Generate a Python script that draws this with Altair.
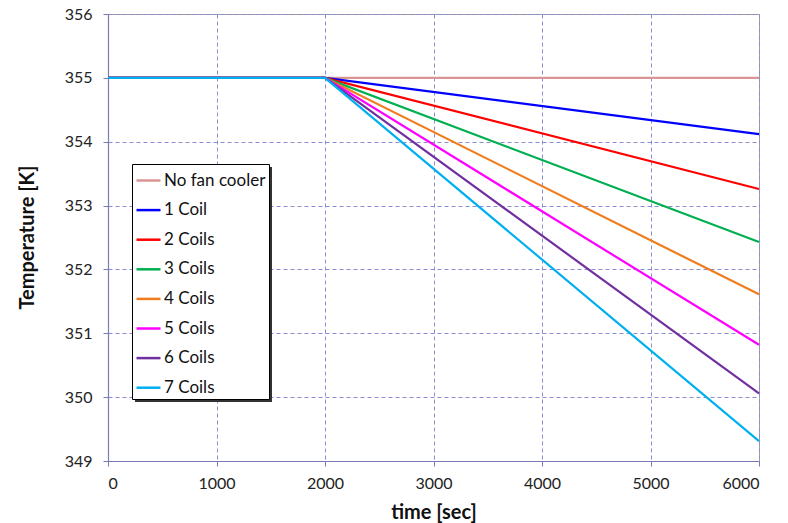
import altair as alt
import pandas as pd

series = ["No fan cooler", "1 Coil", "2 Coils", "3 Coils", "4 Coils", "5 Coils", "6 Coils", "7 Coils"]
colors = ["#d99694", "#0000ff", "#ff0000", "#00b050", "#f07c1e", "#ff00ff", "#7030a0", "#00b0f0"]
times = [0, 2000, 6000]
start_vals = [355, 355, 355, 355, 355, 355, 355, 355]
mid_vals = [355, 355, 355, 355, 355, 355, 355, 355]
end_vals = [355.0, 354.12, 353.26, 352.43, 351.61, 350.82, 350.06, 349.31]

rows = []
for i, s in enumerate(series):
    for t, v in zip(times, [start_vals[i], mid_vals[i], end_vals[i]]):
        rows.append({"series": s, "time": t, "temp": v, "order": i})
df = pd.DataFrame(rows)

FONT = "Lato"
grid_color = "#8c8cd0"

lines = alt.Chart(df).mark_line(strokeWidth=2.2).encode(
    x=alt.X("time:Q", scale=alt.Scale(domain=[0, 6000], nice=False),
            axis=alt.Axis(values=[0, 1000, 2000, 3000, 4000, 5000, 6000], format="d",
                          title="time [sec]", titleY=51, titleBaseline="middle")),
    y=alt.Y("temp:Q", scale=alt.Scale(domain=[349, 356], nice=False, zero=False),
            axis=alt.Axis(values=[349, 350, 351, 352, 353, 354, 355, 356], format="d",
                          title="Temperature [K]",
                          titleX=-81, titleY=223, titleBaseline="middle", titleAngle=-90)),
    color=alt.Color("series:N", sort=series,
                    scale=alt.Scale(domain=series, range=colors),
                    legend=alt.Legend(title=None, orient="none", legendX=24, legendY=150,
                                      symbolType="stroke", symbolSize=576, symbolStrokeWidth=2.5,
                                      labelFontSize=17, labelFont=FONT, labelColor="#111",
                                      labelOffset=2, rowPadding=7.6, padding=3,
                                      fillColor="white", strokeColor="black")),
    order="order:Q",
    detail="series:N",
)

shadow = alt.Chart(alt.Data(values=[{}])).mark_rect(color="#333333").encode(
    x=alt.value(27), x2=alt.value(164), y=alt.value(153), y2=alt.value(388)
)

chart = alt.layer(shadow, lines).properties(
    width=651, height=447,
    autosize=alt.AutoSizeParams(type="none"),
    padding={"left": 108, "top": 14, "right": 29, "bottom": 62},
).configure_view(
    stroke="#a0a0a0", strokeWidth=1
).configure_axis(
    gridDash=[4, 3], gridColor=grid_color, gridWidth=1, gridOpacity=1,
    domainColor="#7a7ab8", domainWidth=1.2,
    tickColor="#7a7ab8", tickSize=5,
    labelFont=FONT, labelFontSize=16, labelColor="#222",
    titleFont=FONT, titleFontSize=20, titleFontWeight="bold", titleColor="#111",
).configure_axisY(labelPadding=11).configure_axisX(labelPadding=9)

chart.save("out.html", embed_options={"renderer": "svg", "actions": False})
